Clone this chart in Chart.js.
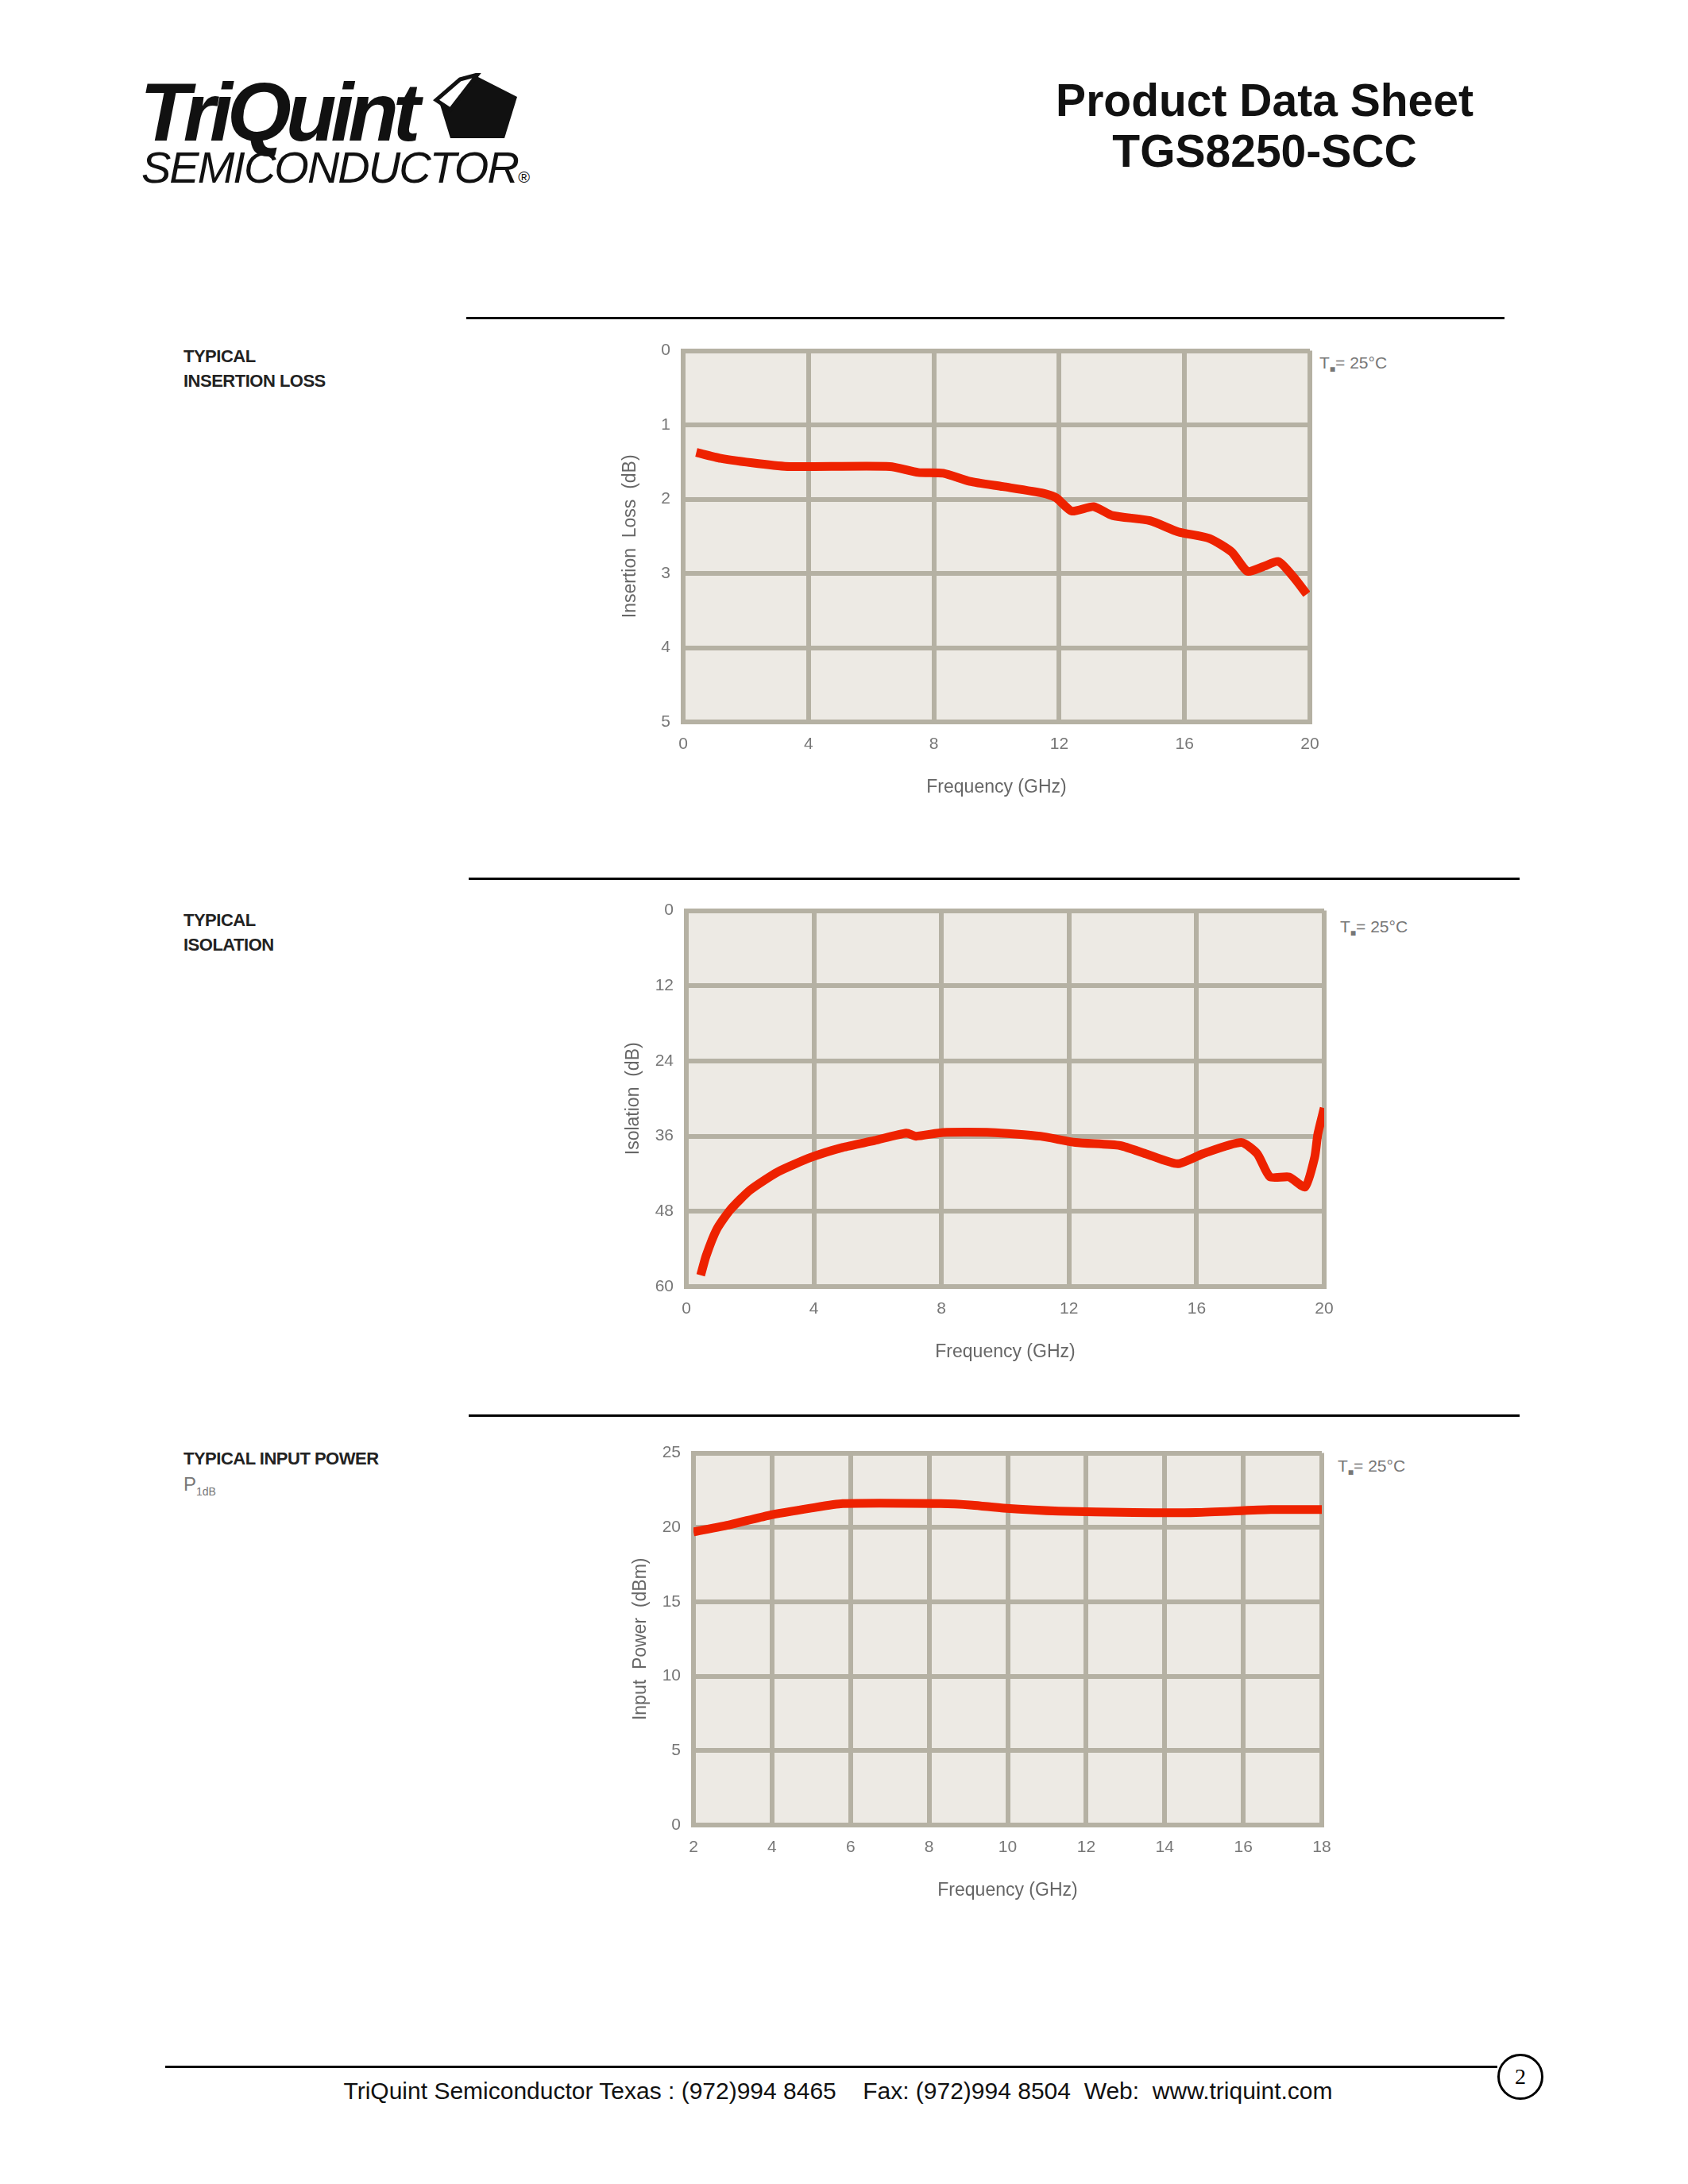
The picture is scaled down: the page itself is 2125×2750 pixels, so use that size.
<!DOCTYPE html>
<html>
<head>
<meta charset="utf-8">
<script src="https://cdn.jsdelivr.net/npm/chart.js@4.4.0/dist/chart.umd.min.js"></script>
<style>
  body { margin:0; width:2125px; height:2750px; background:#fff; position:relative; font-family:"Liberation Sans", Arial, sans-serif; }
  .abs { position:absolute; }
  .rule { position:absolute; height:3px; background:#000; }
  .lbl { position:absolute; font-weight:bold; font-size:22px; line-height:31px; color:#222; letter-spacing:-0.5px; }
  .ta { position:absolute; font-size:21px; color:#777; }
  canvas { position:absolute; }
</style>
</head>
<body>

<div class="abs" style="left:176px;top:82px;font-size:104px;font-weight:bold;font-style:italic;letter-spacing:-7px;color:#111;">TriQuint</div>
<svg class="abs" style="left:545px;top:92px" width="110" height="86" viewBox="0 0 110 86">
  <polygon points="55,4 106,30 90,82 22,82 6,30" fill="#111"/>
  <polygon points="34,8 56,2 22,46 4,34" fill="#fff" stroke="#111" stroke-width="5"/>
</svg>
<div class="abs" style="left:178px;top:178px;font-size:56px;font-style:italic;letter-spacing:-2px;color:#111;">SEMICONDUCTOR<span style="font-size:20px">&reg;</span></div>

<div class="abs" style="left:1217px;width:750px;top:94px;text-align:center;font-weight:bold;font-size:57px;line-height:64px;color:#111;">Product Data Sheet<br>TGS8250-SCC</div>

<div class="rule" style="left:587px;width:1307px;top:399px"></div>
<div class="rule" style="left:590px;width:1323px;top:1105px"></div>
<div class="rule" style="left:590px;width:1323px;top:1781px"></div>

<div class="lbl" style="left:231px;top:433px">TYPICAL<br>INSERTION LOSS</div>
<div class="lbl" style="left:231px;top:1143px">TYPICAL<br>ISOLATION</div>
<div class="lbl" style="left:231px;top:1821px">TYPICAL INPUT POWER</div>
<div class="abs" style="left:231px;top:1855px;font-size:24px;color:#777">P<sub style="font-size:14px">1dB</sub></div>

<div class="ta" style="left:1661px;top:445px">T<sub style="font-size:12px">&#9632;</sub>= 25&deg;C</div>
<div class="ta" style="left:1687px;top:1155px">T<sub style="font-size:12px">&#9632;</sub>= 25&deg;C</div>
<div class="ta" style="left:1684px;top:1834px">T<sub style="font-size:12px">&#9632;</sub>= 25&deg;C</div>

<canvas id="c1"></canvas>
<canvas id="c2"></canvas>
<canvas id="c3"></canvas>

<div class="abs" style="left:208px;width:1677px;top:2601px;height:3px;background:#000"></div>
<div class="abs" style="left:1885px;top:2586px;width:52px;height:52px;border:3px solid #000;border-radius:50%;text-align:center;line-height:52px;font-family:'Liberation Serif',serif;font-size:28px">2</div>
<div class="abs" style="left:180px;width:1750px;top:2616px;text-align:center;font-size:30px;color:#111;white-space:pre">TriQuint Semiconductor Texas : (972)994 8465    Fax: (972)994 8504  Web:  www.triquint.com</div>

<script>
// Insertion loss
var freq1 = [0.42, 1.2, 2.4, 3.4, 6.6, 7.5, 8.3, 9.15, 10.2, 11.5, 11.9, 12.4, 13.1, 13.7, 14.9, 15.8, 16.8, 17.5, 18.0, 18.5, 19.0, 19.5, 19.9];
var loss1 = [1.37, 1.45, 1.52, 1.56, 1.56, 1.64, 1.65, 1.76, 1.83, 1.92, 1.98, 2.16, 2.10, 2.22, 2.29, 2.44, 2.53, 2.71, 2.97, 2.91, 2.84, 3.06, 3.28];
// Isolation
var freq2 = [0.45, 0.62, 0.95, 1.37, 2.0, 2.87, 3.9, 4.9, 5.9, 6.9, 7.2, 8.05, 9.56, 11.1, 12.2, 13.6, 14.4, 15.4, 16.2, 17.4, 17.9, 18.3, 18.9, 19.4, 19.7, 19.8, 20];
var iso2  = [58.2, 55.1, 50.9, 47.8, 44.6, 41.7, 39.4, 37.8, 36.7, 35.5, 36.0, 35.4, 35.4, 36.0, 37.0, 37.5, 38.8, 40.4, 38.8, 37.0, 38.8, 42.5, 42.5, 44.1, 39.4, 35.7, 31.5];
// Input power P1dB
var freq3 = [2.0, 2.95, 3.9, 5.0, 5.8, 8.3, 9.1, 9.9, 11.3, 13.2, 14.8, 16.7, 18];
var pwr3  = [19.7, 20.2, 20.8, 21.3, 21.6, 21.6, 21.5, 21.3, 21.1, 21.0, 21.0, 21.2, 21.2];

var gridCol = '#b5b1a3';
var tickCol = '#777';
var fontFam = '"Liberation Sans", Arial, sans-serif';

var plotBg = {
  id: 'plotBg',
  beforeDraw: function(chart) {
    var a = chart.chartArea, ctx = chart.ctx;
    ctx.save();
    ctx.fillStyle = '#edeae4';
    ctx.fillRect(a.left, a.top, a.right - a.left, a.bottom - a.top);
    ctx.restore();
  }
};

function toPoints(xs, ys) {
  return xs.map(function(x, i) { return {x: x, y: ys[i]}; });
}

function makeChart(id, rect, pts, xOpt, yOpt, yTitle) {
  var yW = 120, xH = 110, padT = 20, padR = 30;
  var cv = document.getElementById(id);
  var w = yW + rect.w + padR, h = padT + rect.h + xH;
  cv.width = w; cv.height = h;
  cv.style.left = (rect.l - yW) + 'px';
  cv.style.top = (rect.t - padT) + 'px';
  cv.style.width = w + 'px';
  cv.style.height = h + 'px';

  var grid = { color: gridCol, lineWidth: 6, drawTicks: false };
  var border = { color: gridCol, width: 6 };
  var tickFont = { family: fontFam, size: 21 };

  return new Chart(cv, {
    type: 'line',
    data: { datasets: [{ data: pts, borderColor: '#ee2200', borderWidth: 11, pointRadius: 0, tension: 0.2, fill: false }] },
    options: {
      responsive: false,
      animation: false,
      devicePixelRatio: 1,
      layout: { padding: { top: padT, right: padR, left: 0, bottom: 0 } },
      plugins: { legend: { display: false }, tooltip: { enabled: false } },
      scales: {
        x: {
          type: 'linear', min: xOpt.min, max: xOpt.max,
          afterFit: function(s) { s.height = xH; },
          grid: grid, border: border,
          ticks: { stepSize: xOpt.step, color: tickCol, font: tickFont, padding: 16 },
          title: { display: true, text: 'Frequency (GHz)', color: '#666', font: { family: fontFam, size: 23 }, padding: { top: 0, bottom: 14 } }
        },
        y: {
          type: 'linear', min: yOpt.min, max: yOpt.max, reverse: yOpt.reverse,
          afterFit: function(s) { s.width = yW; },
          grid: grid, border: border,
          ticks: { stepSize: yOpt.step, color: tickCol, font: tickFont, padding: 16 },
          title: { display: true, text: yTitle, color: '#666', font: { family: fontFam, size: 23 }, padding: { top: 40, bottom: 0 } }
        }
      }
    },
    plugins: [plotBg]
  });
}

makeChart('c1', { l: 860, t: 433, w: 789, h: 476 }, toPoints(freq1, loss1),
  { min: 0, max: 20, step: 4 }, { min: 0, max: 5, step: 1, reverse: true }, 'Insertion  Loss  (dB)');
makeChart('c2', { l: 864, t: 1138, w: 803, h: 482 }, toPoints(freq2, iso2),
  { min: 0, max: 20, step: 4 }, { min: 0, max: 60, step: 12, reverse: true }, 'Isolation  (dB)');
makeChart('c3', { l: 873, t: 1821, w: 791, h: 477 }, toPoints(freq3, pwr3),
  { min: 2, max: 18, step: 2 }, { min: 0, max: 25, step: 5, reverse: false }, 'Input  Power  (dBm)');
</script>
</body>
</html>
